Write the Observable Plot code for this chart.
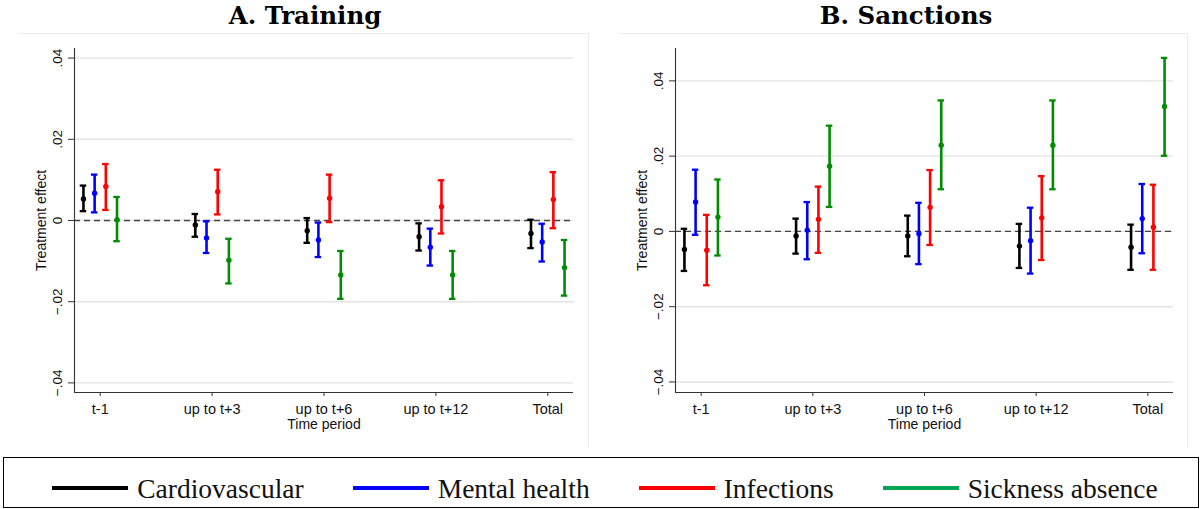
<!DOCTYPE html>
<html>
<head>
<meta charset="utf-8">
<script src="https://cdn.jsdelivr.net/npm/d3@7"></script>
<script src="https://cdn.jsdelivr.net/npm/@observablehq/plot@0.6"></script>
<style>
  body { margin: 0; background: #fff; }
  #wrap { position: relative; width: 1203px; height: 509px; overflow: hidden; background: #fff; }
  .panel { position: absolute; top: 0; }
  .frame { position: absolute; top: 33px; height: 413px; border-top: 1px solid #ececec; border-right: 1px solid #ececec; pointer-events: none; }
  .title { position: absolute; top: 4px; font-family: "DejaVu Serif", serif; font-weight: bold; font-size: 24.5px; line-height: 1; text-align: center; color: #000; }
  #legend { position: absolute; left: 3px; top: 457px; width: 1196px; height: 51px; box-sizing: border-box; border: 1px solid #000; display: flex; justify-content: center; align-items: flex-start; gap: 49px; padding-top: 17px; padding-left: 8px; }
  .item { display: flex; align-items: flex-start; }
  .swatch { width: 76px; height: 4px; margin-right: 9px; margin-top: 11px; }
  .lab { font-family: "Liberation Serif", serif; font-size: 27.5px; line-height: 1; color: #111; }
</style>
</head>
<body>
<div id="wrap"></div>
<script>
// ---- data ----
const periods = ["t-1", "up to t+3", "up to t+6", "up to t+12", "Total"];
const seriesNames = ["Cardiovascular", "Mental health", "Infections", "Sickness absence"];
const seriesColors = ["#000000", "#0000ff", "#ff0000", "#008c00"];
const legendColors = ["#000000", "#0000ff", "#ff0000", "#00a651"];
const panelTitles = ["A. Training", "B. Sanctions"];
const yTickValues = [-0.04, -0.02, 0, 0.02, 0.04];

// Training: rows = series, columns = periods
const trainingEst = [
  [0.0053, -0.0011, -0.0025, -0.0040, -0.0032],
  [0.0067, -0.0043, -0.0048, -0.0066, -0.0053],
  [0.0084, 0.0071, 0.0055, 0.0034, 0.0052],
  [0.0002, -0.0098, -0.0134, -0.0134, -0.0116]
];
const trainingLo = [
  [0.0023, -0.0040, -0.0055, -0.0074, -0.0068],
  [0.0020, -0.0080, -0.0090, -0.0111, -0.0101],
  [0.0026, 0.0015, -0.0004, -0.0032, -0.0019],
  [-0.0051, -0.0155, -0.0193, -0.0193, -0.0185]
];
const trainingHi = [
  [0.0086, 0.0016, 0.0006, -0.0007, 0.0002],
  [0.0113, -0.0002, -0.0005, -0.0020, -0.0008],
  [0.0139, 0.0125, 0.0113, 0.0099, 0.0119],
  [0.0058, -0.0045, -0.0075, -0.0075, -0.0048]
];

// Sanctions
const sanctionsEst = [
  [-0.0048, -0.0012, -0.0012, -0.0039, -0.0042],
  [0.0078, 0.0003, -0.0006, -0.0025, 0.0034],
  [-0.0050, 0.0032, 0.0064, 0.0036, 0.0011],
  [0.0038, 0.0173, 0.0229, 0.0229, 0.0332]
];
const sanctionsLo = [
  [-0.0105, -0.0059, -0.0066, -0.0097, -0.0102],
  [-0.0009, -0.0074, -0.0087, -0.0112, -0.0058],
  [-0.0143, -0.0057, -0.0036, -0.0076, -0.0102],
  [-0.0064, 0.0065, 0.0112, 0.0112, 0.0201]
];
const sanctionsHi = [
  [0.0007, 0.0034, 0.0042, 0.0020, 0.0018],
  [0.0164, 0.0078, 0.0076, 0.0063, 0.0126],
  [0.0044, 0.0119, 0.0163, 0.0147, 0.0124],
  [0.0138, 0.0281, 0.0348, 0.0348, 0.0461]
];

// ---- styling / layout ----
const seriesOffset = [-0.15, -0.05, 0.05, 0.15];
const capHalf = 0.029;
const xDomain = [0.77, 5.23];
const fmtY = d => d === 0 ? "0" : d3.format(".2f")(d).replace("0.", ".");

function buildRows(est, lo, hi) {
  const rows = [];
  seriesNames.forEach((s, si) => {
    periods.forEach((p, pi) => {
      rows.push({ series: s, x: pi + 1 + seriesOffset[si], est: est[si][pi], lo: lo[si][pi], hi: hi[si][pi] });
    });
  });
  return rows;
}

function makePanel(est, lo, hi, yDomain, width, marginLeft, marginRight) {
  const rows = buildRows(est, lo, hi);
  const col = { stroke: "series" };
  return Plot.plot({
    width, height: 450,
    marginLeft, marginRight, marginTop: 48, marginBottom: 58,
    style: { fontFamily: "Liberation Sans, Arial, sans-serif", background: "transparent", color: "#111" },
    x: { domain: xDomain },
    y: { domain: yDomain },
    color: { domain: seriesNames, range: seriesColors },
    marks: [
      Plot.gridY(yTickValues, { stroke: "#e4e4e4", strokeOpacity: 1, strokeWidth: 1.4 }),
      Plot.ruleY([0], { stroke: "#444", strokeDasharray: "6,4", strokeWidth: 1.3 }),
      Plot.ruleX(rows, { x: "x", y1: "lo", y2: "hi", ...col, strokeWidth: 2.6 }),
      Plot.ruleY(rows, { y: "hi", x1: d => d.x - capHalf, x2: d => d.x + capHalf, ...col, strokeWidth: 2.3 }),
      Plot.ruleY(rows, { y: "lo", x1: d => d.x - capHalf, x2: d => d.x + capHalf, ...col, strokeWidth: 2.3 }),
      Plot.dot(rows, { x: "x", y: "est", r: 2.7, fill: "series", stroke: "none" }),
      Plot.ruleX([xDomain[0]], { stroke: "#333", strokeWidth: 1.1 }),
      Plot.ruleY([yDomain[0]], { stroke: "#333", strokeWidth: 1.1 }),
      Plot.axisX({ ticks: [1, 2, 3, 4, 5], tickFormat: i => periods[i - 1], tickSize: 4, tickPadding: 7, fontSize: 14.5, label: null, stroke: "#333" }),
      Plot.axisY({ ticks: yTickValues, tickFormat: fmtY, tickRotate: -90, tickSize: 6, tickPadding: 7, fontSize: 13.5, label: null, stroke: "#333" }),
      Plot.text(["Treatment effect"], { text: d => d, frameAnchor: "left", rotate: -90, dx: -29, lineAnchor: "bottom", textAnchor: "middle", fontSize: 14 }),
      Plot.text(["Time period"], { text: d => d, frameAnchor: "bottom", dy: 36, lineAnchor: "bottom", textAnchor: "middle", fontSize: 14 })
    ]
  });
}

const wrap = document.getElementById("wrap");

function addDiv(cls, styles, text) {
  const d = document.createElement("div");
  d.className = cls;
  Object.assign(d.style, styles);
  if (text) d.textContent = text;
  wrap.appendChild(d);
  return d;
}

const pA = addDiv("panel", { left: "0px", width: "600px" });
pA.appendChild(makePanel(trainingEst, trainingLo, trainingHi, [-0.04236, 0.04236], 600, 74, 27));
const pB = addDiv("panel", { left: "600px", width: "603px" });
pB.appendChild(makePanel(sanctionsEst, sanctionsLo, sanctionsHi, [-0.0428, 0.0486], 603, 75, 30));

addDiv("frame", { left: "18px", width: "570px" });
addDiv("frame", { left: "619px", width: "568px" });

addDiv("title", { left: "0px", width: "610px" }, panelTitles[0]);
addDiv("title", { left: "603px", width: "606px" }, panelTitles[1]);

const legend = addDiv("", {}, null);
legend.id = "legend";
seriesNames.forEach((s, i) => {
  const item = document.createElement("div");
  item.className = "item";
  const sw = document.createElement("div");
  sw.className = "swatch";
  sw.style.background = legendColors[i];
  const lab = document.createElement("span");
  lab.className = "lab";
  lab.textContent = s;
  item.appendChild(sw);
  item.appendChild(lab);
  legend.appendChild(item);
});
</script>
</body>
</html>
